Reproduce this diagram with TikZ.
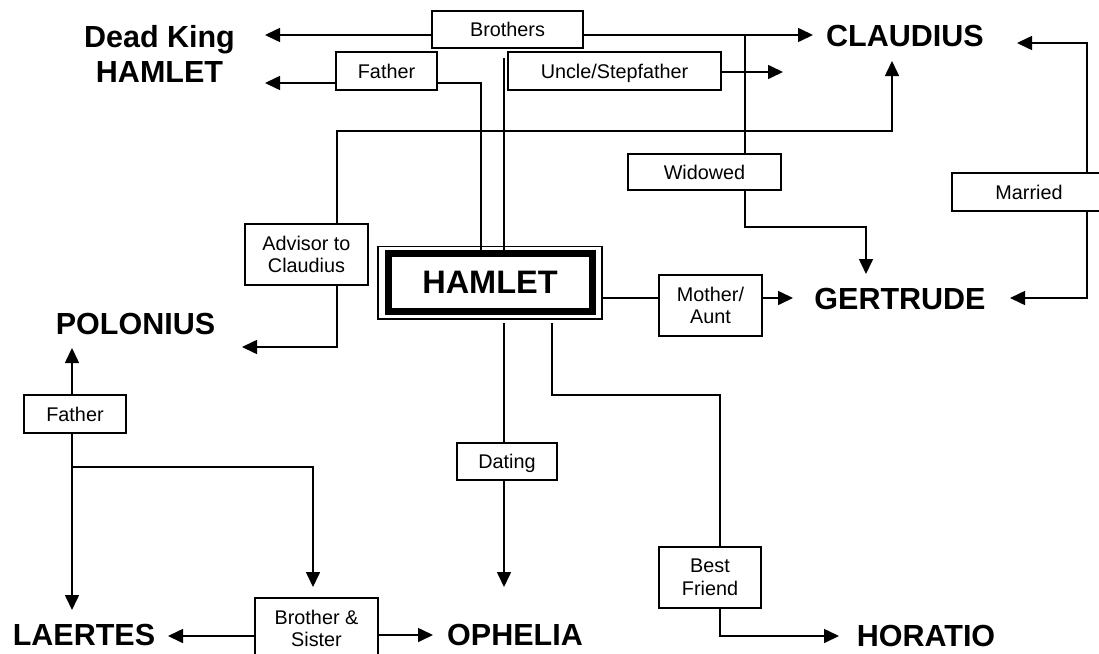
\documentclass[tikz,border=0pt]{standalone}
\usepackage{fontspec}
\setmainfont{Liberation Sans}
\usetikzlibrary{arrows.meta,calc}
\newcommand\bigfnt{\fontsize{30.5}{35}\selectfont\bfseries}
\newcommand\hamfnt{\fontsize{32.5}{37}\selectfont\bfseries}
\newcommand\smallfnt{\fontsize{19.8}{22.8}\selectfont}
\begin{document}
\begin{tikzpicture}[x=1pt,y=-1pt,
  lbl/.style={font=\bigfnt, inner sep=0pt},
  rel/.style={draw, line width=1.6pt, font=\smallfnt, align=center, inner sep=0pt},
  one/.style={text height=14.2pt, text depth=0pt},
  con/.style={line width=1.6pt},
  arr/.style={con, -{Triangle[length=15pt,width=14pt]}}]
\fill[white] (0,0) rectangle (1099,653);
\path[use as bounding box] (0,0) rectangle (1099,653);
\clip (0,0) rectangle (1099,653);

% character labels
\node[lbl, align=center] (deadking) at (159.5,53.5) {Dead King\\HAMLET};
\node[lbl] (claudius) at (905,36) {CLAUDIUS};
\node[lbl] (gertrude) at (900,299) {GERTRUDE};
\node[lbl] (polonius) at (135.5,324) {POLONIUS};
\node[lbl] (laertes) at (84,635) {LAERTES};
\node[lbl] (ophelia) at (515,635) {OPHELIA};
\node[lbl] (horatio) at (926,636) {HORATIO};

% central box
\node[draw, line width=7pt, minimum width=204pt, minimum height=58.5pt, inner sep=0pt, font=\hamfnt] (hamlet) at (490,282.25) {HAMLET};
\draw[line width=1.2pt] ([shift={(-6.5pt,3pt)}]hamlet.north west) rectangle ([shift={(6.5pt,-4pt)}]hamlet.south east);
\coordinate (hR) at ([xshift=6.5pt]hamlet.east);

% relation boxes
\node[rel, one, minimum width=151pt, minimum height=37pt] (brothers) at (507.5,29.5) {Brothers};
\node[rel, one, minimum width=101pt, minimum height=38pt] (fatherA) at (386.5,71) {Father};
\node[rel, one, minimum width=213pt, minimum height=38pt] (uncle) at (614.5,71) {Uncle/Stepfather};
\node[rel, one, minimum width=153pt, minimum height=36pt] (widowed) at (704.5,172) {Widowed};
\node[rel, one, minimum width=154pt, minimum height=38pt] (married) at (1029,192) {Married};
\node[rel, minimum width=123pt, minimum height=61pt] (advisor) at (306.5,254.5) {Advisor to\\Claudius};
\node[rel, minimum width=103pt, minimum height=61pt] (mother) at (710.5,305.5) {Mother/\\Aunt};
\node[rel, one, minimum width=102pt, minimum height=38pt] (fatherB) at (75,414) {Father};
\node[rel, one, minimum width=100pt, minimum height=37pt] (dating) at (507,461.5) {Dating};
\node[rel, minimum width=102pt, minimum height=61pt] (friend) at (710,577.5) {Best\\Friend};
\node[rel, minimum width=123pt, minimum height=61pt] (brosis) at (316.5,628.5) {Brother \&\\Sister};

% routing points and arrow ends
\coordinate (tDK1) at (265,35);
\coordinate (tCL1) at (813,35);
\coordinate (tDK2) at (265,83);
\coordinate (jF) at (481,83);
\coordinate (eU) at (504,58);
\coordinate (tUN) at (783,72);
\coordinate (jW) at (745,35);
\coordinate (jW2) at (745,227);
\coordinate (tGEd) at (866,274);
\coordinate (jA) at (337,131);
\coordinate (tCLu) at (892,61);
\coordinate (tPO) at (242,347);
\coordinate (jM) at (1087,43);
\coordinate (tCLr) at (1017,43);
\coordinate (tGEr) at (1010,298);
\coordinate (tGEm) at (793,298);
\coordinate (tOPd) at (504,587);
\coordinate (jB) at (552,395);
\coordinate (jB2) at (720,395);
\coordinate (tHO) at (839,636);
\coordinate (tPOu) at (72,348);
\coordinate (tLAd) at (72,610);
\coordinate (jP) at (72,467);
\coordinate (tBS) at (313,587);
\coordinate (tLA) at (168,636);
\coordinate (tOPr) at (433,635);

% connectors
\draw[arr] (brothers.west |- tDK1) -- (tDK1);
\draw[arr] (brothers.east |- tCL1) -- (tCL1);
\draw[arr] (fatherA.west |- tDK2) -- (tDK2);
\draw[con] (hamlet.north -| jF) -- (jF) -- (fatherA.east |- jF);
\draw[con] (hamlet.north -| eU) -- (eU);
\draw[arr] (uncle.east |- tUN) -- (tUN);
\draw[con] (jW) -- (widowed.north -| jW);
\draw[arr] (widowed.south -| jW) -- (jW2) -| (tGEd);
\draw[arr] (advisor.north -| jA) -- (jA) -| (tCLu);
\draw[arr] (advisor.south -| jA) |- (tPO);
\draw[arr] (married.north -| jM) -- (jM) -- (tCLr);
\draw[arr] (married.south -| jM) |- (tGEr);
\draw[con] (hR |- tGEm) -- (mother.west |- tGEm);
\draw[arr] (mother.east |- tGEm) -- (tGEm);
\draw[con, shorten <=8pt] (hamlet.south -| tOPd) -- (dating.north -| tOPd);
\draw[arr] (dating.south -| tOPd) -- (tOPd);
\draw[con, shorten <=8pt] (hamlet.south -| jB) -- (jB) -- (jB2) -- (friend.north -| jB2);
\draw[arr] (friend.south -| jB2) |- (tHO);
\draw[arr] (fatherB.north -| tPOu) -- (tPOu);
\draw[arr] (fatherB.south -| tLAd) -- (tLAd);
\draw[arr] (jP) -| (tBS);
\draw[arr] (brosis.west |- tLA) -- (tLA);
\draw[arr] (brosis.east |- tOPr) -- (tOPr);
\end{tikzpicture}
\end{document}
